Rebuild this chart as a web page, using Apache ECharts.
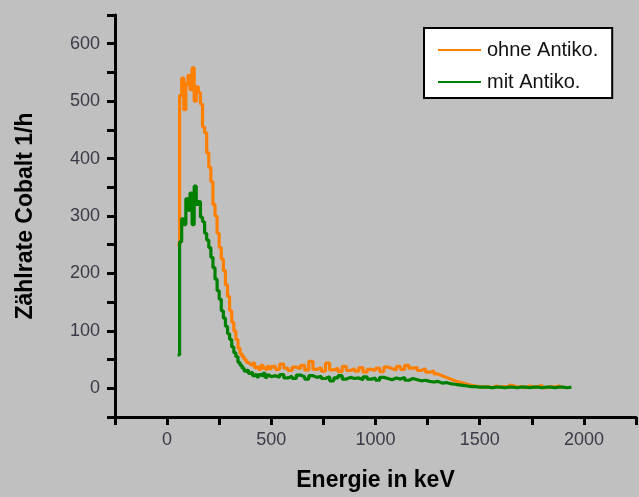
<!DOCTYPE html>
<html>
<head>
<meta charset="utf-8">
<script src="https://cdn.jsdelivr.net/npm/echarts@6/dist/echarts.min.js"></script>
<style>
html,body{margin:0;padding:0;background:#c0c0c0;}
#chart{width:639px;height:497px;}
</style>
</head>
<body>
<div id="chart"></div>
<script>
// Energy bin positions (keV)
var energy = [
  50,60,70,80,90,100,110,120,130,140,150,160,170,180,190,200,210,220,230,240,
  250,260,270,280,290,300,310,320,330,340,350,360,370,380,390,400,410,420,430,440,
  450,460,470,480,490,
  500,520,540,560,580,600,620,640,660,680,
  700,720,740,760,780,800,820,840,860,880,
  900,920,940,960,980,1000,1020,1040,1060,1080,
  1100,1120,1140,1160,1180,1200,1220,1240,1260,1280,
  1300,1320,1340,1360,1380,1400,1420,1440,1460,1480,
  1500,1520,1540,1560,1580,1600,1620,1640,1660,1680,
  1700,1720,1740,1760,1780,1800,1820,1840,1860,1880,
  1900,1920,1940
];
// Counts without anticoincidence (orange)
var ohneAntiko = [
  250,510,540,485,530,545,520,558,500,525,515,495,455,445,410,385,360,320,300,270,
  245,225,205,180,160,135,115,100,85,70,60,55,50,45,42,40,44,36,38,33,
  40,35,32,38,34,
  38,33,42,35,31,37,34,40,32,47,
  33,36,30,44,32,35,29,38,31,34,
  30,36,28,33,31,35,29,37,34,32,
  38,33,40,35,36,31,34,28,30,25,
  22,19,16,13,11,9,7,5,4,3,
  2,3,1,4,2,3,1,5,2,3,
  1,4,2,3,5,1,3,2,4,1,
  null,null,null
];
// Counts with anticoincidence (green)
var mitAntiko = [
  58,255,295,285,330,310,340,285,352,320,325,298,290,270,258,245,228,210,190,170,
  155,135,122,108,95,85,72,62,55,45,40,35,30,32,26,28,22,25,20,24,
  21,26,19,23,20,
  22,19,24,18,21,17,23,20,16,22,
  19,21,17,20,13,18,22,16,19,17,
  18,15,20,16,18,14,19,17,15,18,
  16,19,14,17,15,13,14,12,11,12,
  9,10,8,7,6,5,4,3,3,2,
  2,2,1,2,2,1,2,2,1,2,
  2,1,2,2,1,2,2,1,2,2,
  1,2,1
];
var seriesNames = ['ohne Antiko.', 'mit Antiko.'];
var xTickLabels = [0, 500, 1000, 1500, 2000];
var yTickLabels = [0, 100, 200, 300, 400, 500, 600];

function pairs(vals){
  return energy.map(function(e,i){ return [e, vals[i]]; });
}

var chart = echarts.init(document.getElementById('chart'), null, {renderer:'canvas'});
var labelStyle = {fontFamily:'Arial, Liberation Sans, sans-serif', fontSize:18, color:'#3a3a48'};
chart.setOption({
  animation:false,
  backgroundColor:'#c0c0c0',
  grid:{left:115, right:0, top:15, bottom:76, containLabel:false},
  legend:{
    data:seriesNames.map(function(n){ return {name:n, icon:'rect'}; }),
    orient:'vertical',
    left:424, top:28,
    padding:[12,14,6,14],
    backgroundColor:'#ffffff',
    borderColor:'#000000',
    borderWidth:2,
    itemWidth:43, itemHeight:2, itemGap:12,
    textStyle:{fontFamily:'Arial, Liberation Sans, sans-serif', fontSize:20, color:'#111', lineHeight:20, padding:[0,0,0,1]}
  },
  xAxis:{
    type:'value', min:-250, max:2250, interval:250,
    name:'Energie in keV', nameLocation:'middle', nameGap:52,
    nameTextStyle:{fontFamily:'Arial, Liberation Sans, sans-serif', fontWeight:'bold', fontSize:23, color:'#000'},
    axisLine:{show:true, onZero:false, lineStyle:{color:'#000', width:3}},
    axisTick:{show:true, inside:false, length:8, lineStyle:{color:'#000', width:3}},
    axisLabel:Object.assign({margin:14, showMinLabel:true, showMaxLabel:true,
      formatter:function(v){ return xTickLabels.indexOf(v) >= 0 ? String(v) : ''; }}, labelStyle),
    splitLine:{show:false}
  },
  yAxis:{
    type:'value', min:-50, max:650, interval:50,
    name:'Zählrate Cobalt 1/h', nameLocation:'middle', nameGap:78, nameRotate:90,
    nameTextStyle:{fontFamily:'Arial, Liberation Sans, sans-serif', fontWeight:'bold', fontSize:23, color:'#000'},
    axisLine:{show:true, onZero:false, lineStyle:{color:'#000', width:3}},
    axisTick:{show:true, inside:false, length:8, lineStyle:{color:'#000', width:3}},
    axisLabel:Object.assign({margin:15, showMinLabel:true, showMaxLabel:true,
      formatter:function(v){ return yTickLabels.indexOf(v) >= 0 ? String(v) : ''; }}, labelStyle),
    splitLine:{show:false}
  },
  series:[
    {name:seriesNames[0], type:'line', step:'end', symbol:'none', showSymbol:false, data:pairs(ohneAntiko),
     lineStyle:{color:'#ff8000', width:3.2}, itemStyle:{color:'#ff8000'}, connectNulls:false},
    {name:seriesNames[1], type:'line', step:'end', symbol:'none', showSymbol:false, data:pairs(mitAntiko),
     lineStyle:{color:'#008000', width:3.2}, itemStyle:{color:'#008000'}}
  ]
});
</script>
</body>
</html>
